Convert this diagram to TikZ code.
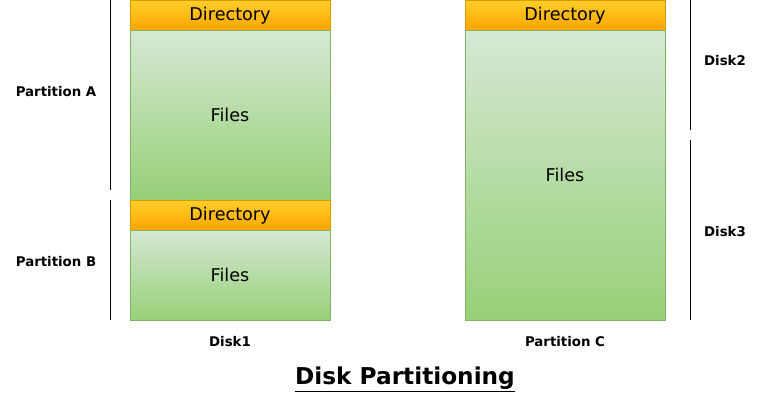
\documentclass[tikz,border=0pt]{standalone}
\usepackage{fontspec}
\setmainfont{DejaVu Sans}
\begin{document}
\begin{tikzpicture}[x=0.75pt,y=-0.75pt,
  cell/.style={rectangle, line width=0.75pt, minimum width=150pt, inner sep=0pt, outer sep=0pt,
    font=\fontsize{13.2}{15}\selectfont},
  dirbox/.style={cell, draw={rgb,255:red,215;green,155;blue,0},
    top color={rgb,255:red,255;green,205;blue,40}, bottom color={rgb,255:red,255;green,165;blue,0},
    minimum height=22.5pt},
  filebox/.style={cell, draw={rgb,255:red,130;green,179;blue,102},
    top color={rgb,255:red,213;green,232;blue,212}, bottom color={rgb,255:red,151;green,208;blue,119}},
  lbl/.style={font=\bfseries\fontsize{10}{12}\selectfont, inner sep=0pt},
  bar/.style={line width=0.75pt, black}]
\useasboundingbox (0,0) rectangle (761,401);

% Disk 1: two partitions
\node[dirbox] (dirA) at (230,15.5) {Directory};
\node[filebox, minimum height=127.5pt] (filesA) at (230,115) {Files};
\node[dirbox] (dirB) at (230,215.5) {Directory};
\node[filebox, minimum height=67.5pt] (filesB) at (230,275) {Files};

% Partition C spanning two disks
\node[dirbox] (dirC) at (565,15.5) {Directory};
\node[filebox, minimum height=217.5pt] (filesC) at (565,175) {Files};

% Extent bars
\coordinate (pa1) at (110,0);   \coordinate (pa2) at (110,190);
\coordinate (pb1) at (110,200); \coordinate (pb2) at (110,320);
\coordinate (d21) at (690,0);   \coordinate (d22) at (690,130);
\coordinate (d31) at (690,140); \coordinate (d32) at (690,320);
\draw[bar] (pa1) -- (pa2);
\draw[bar] (pb1) -- (pb2);
\draw[bar] (d21) -- (d22);
\draw[bar] (d31) -- (d32);

% Labels
\node[lbl] (labA) at (56,92) {Partition A};
\node[lbl] (labB) at (56,262) {Partition B};
\node[lbl] (labD2) at (725,61) {Disk2};
\node[lbl] (labD3) at (725,232) {Disk3};
\node[lbl] (labD1) at (230,342) {Disk1};
\node[lbl] (labC) at (565,342) {Partition C};

% Title
\node[anchor=base, inner sep=0pt, font=\bfseries\fontsize{17.4}{20}\selectfont] (title) at (405,384) {\underline{Disk Partitioning}};
\end{tikzpicture}
\end{document}
